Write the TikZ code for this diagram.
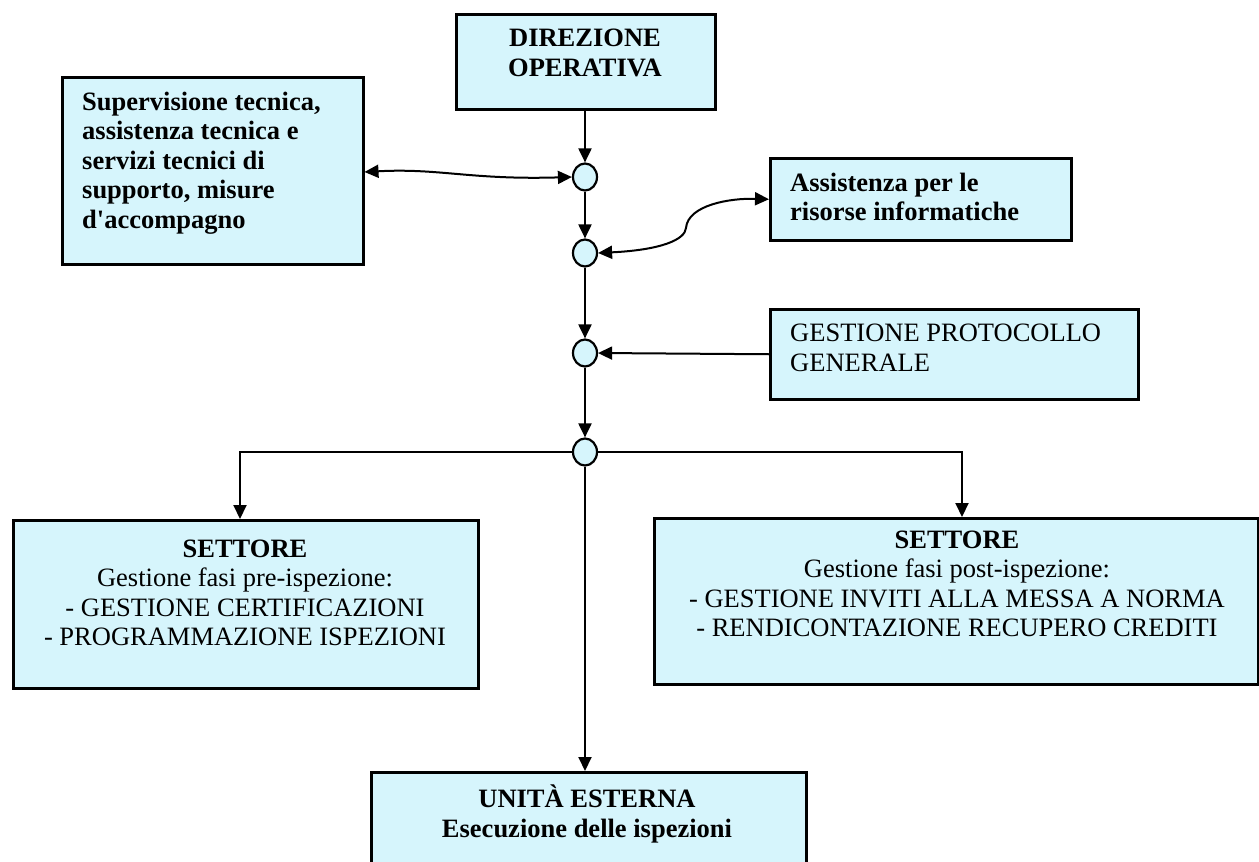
\documentclass[tikz,border=0pt]{standalone}
\usepackage{fontspec}
\setmainfont{Liberation Serif}
\usetikzlibrary{arrows.meta,shapes.geometric}
\definecolor{boxfill}{RGB}{214,245,252}
\tikzset{
  box/.style={draw=black, line width=2.5pt, fill=boxfill, inner sep=0pt, anchor=north west},
  junc/.style={draw=black, line width=2.2pt, fill=boxfill, ellipse, inner sep=0pt, minimum width=24pt, minimum height=27pt},
  arr/.style={line width=2pt, -{Triangle[length=14pt,width=13pt]}},
  darr/.style={line width=2pt, {Triangle[length=14pt,width=13pt]}-{Triangle[length=14pt,width=13pt]}},
  txt/.style={inner sep=0pt, font=\fontsize{26.5}{29.5}\selectfont},
  btxt/.style={inner sep=0pt, font=\fontsize{26.5}{29.5}\selectfont\bfseries}
}
\begin{document}
\begin{tikzpicture}[x=1pt,y=-1pt]
\useasboundingbox (0,0) rectangle (1259,862);
\clip (0,0) rectangle (1259,862);
% boxes
\node[box, minimum width=259pt, minimum height=95pt] (dir) at (455,13) {};
\node[box, minimum width=301pt, minimum height=187pt] (sup) at (61,76) {};
\node[box, minimum width=301pt, minimum height=82pt] (ass) at (769,157) {};
\node[box, minimum width=368pt, minimum height=90pt] (gp) at (769,308) {};
\node[box, minimum width=465pt, minimum height=168pt] (sl) at (12,519) {};
\node[box, minimum width=604pt, minimum height=166pt] (sr) at (653,517) {};
\node[box, minimum width=435pt, minimum height=120pt] (unit) at (370,771) {};
% junctions
\node[junc] (c1) at (585,177) {};
\node[junc] (c2) at (585,253) {};
\node[junc] (c3) at (585,353) {};
\node[junc] (c4) at (585,452) {};
% texts
\node[btxt, align=center] (tdir) at (585,53) {DIREZIONE\\OPERATIVA};
\node[btxt, align=left, anchor=west] (tsup) at (82,163) {Supervisione tecnica,\\assistenza tecnica e\\servizi tecnici di\\supporto, misure\\d\textquotesingle accompagno};
\node[btxt, align=left, anchor=west] (tass) at (790,197) {Assistenza per le\\risorse informatiche};
\node[txt, align=left, anchor=west] (tgp) at (790,348) {GESTIONE PROTOCOLLO\\GENERALE};
\node[txt, align=center] (tsl) at (245,593) {\textbf{SETTORE}\\Gestione fasi pre-ispezione:\\- GESTIONE CERTIFICAZIONI\\- PROGRAMMAZIONE ISPEZIONI};
\node[txt, align=center] (tsr) at (957,584) {\textbf{SETTORE}\\Gestione fasi post-ispezione:\\- GESTIONE INVITI ALLA MESSA A NORMA\\- RENDICONTAZIONE RECUPERO CREDITI};
\node[btxt, align=center] (tunit) at (587,814) {UNITÀ ESTERNA\\Esecuzione delle ispezioni};
% connectors
\draw[arr] (dir.south -| c1) -- (c1.north);
\draw[arr] (c1.south) -- (c2.north);
\draw[arr] (c2.south) -- (c3.north);
\draw[arr] (c3.south) -- (c4.north);
\draw[arr] (c4.south) -- (c4.south |- unit.north);
\draw[arr] (c4.west) -| (240,519);
\draw[arr] (c4.east) -| (962,517);
\draw[arr] (gp.west) -- (c3.east);
\draw[darr] (sup.east |- 0,172) .. controls (440,168) and (470,180) .. (c1.west);
\draw[darr] (c2.east) .. controls (660,250) and (685,240) .. (686,228) .. controls (688,205) and (730,198) .. (ass.west);
\end{tikzpicture}
\end{document}
